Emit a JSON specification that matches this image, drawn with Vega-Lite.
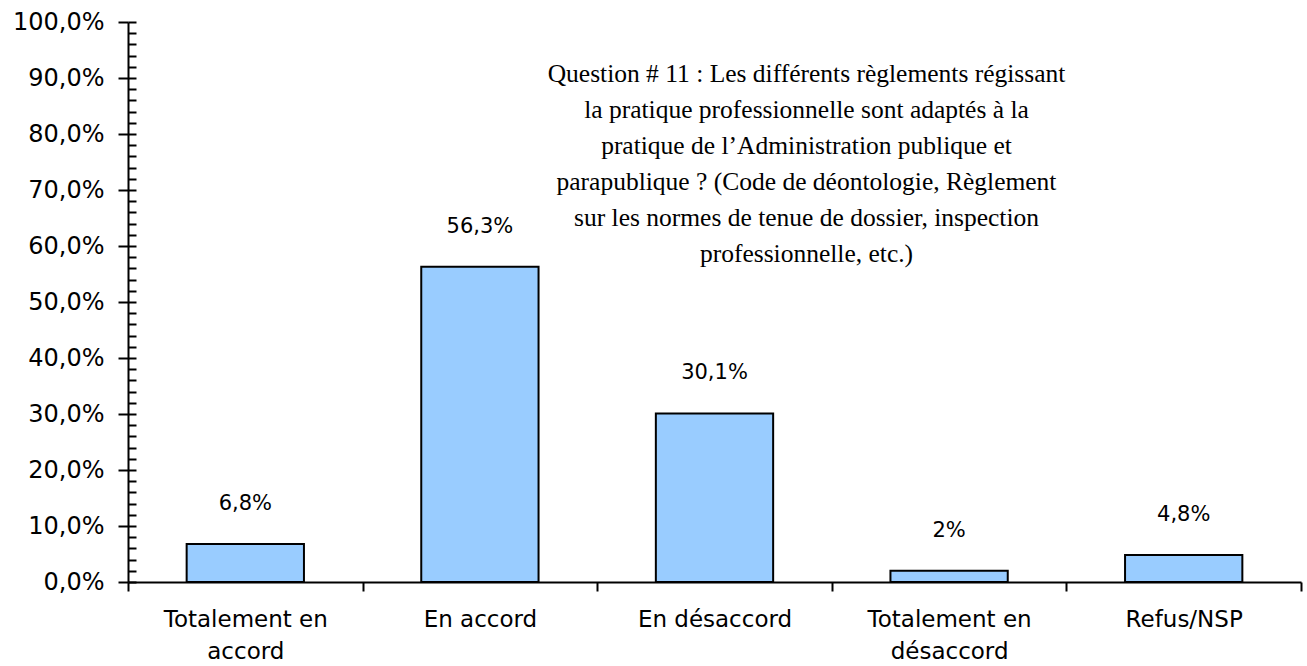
{
  "$schema": "https://vega.github.io/schema/vega-lite/v6.json",
  "width": 1173,
  "height": 560,
  "autosize": {"type": "none"},
  "padding": {"left": 128, "top": 22, "right": 6, "bottom": 84},
  "background": "white",
  "config": {
    "locale": {"number": {"decimal": ",", "thousands": " ", "grouping": [3], "currency": ["", " €"]}},
    "view": {"stroke": null},
    "axis": {"grid": false, "domainColor": "black", "tickColor": "black", "labelColor": "black", "domainWidth": 2, "tickWidth": 2}
  },
  "data": {
    "values": [
      {"categorie": "Totalement en accord", "valeur": 0.068, "etiquette": "6,8%"},
      {"categorie": "En accord", "valeur": 0.563, "etiquette": "56,3%"},
      {"categorie": "En désaccord", "valeur": 0.301, "etiquette": "30,1%"},
      {"categorie": "Totalement en désaccord", "valeur": 0.02, "etiquette": "2%"},
      {"categorie": "Refus/NSP", "valeur": 0.048, "etiquette": "4,8%"}
    ]
  },
  "resolve": {"axis": {"y": "independent"}},
  "layer": [
    {
      "mark": {"type": "bar", "fill": "#99CCFF", "stroke": "black", "strokeWidth": 2, "width": {"band": 0.5}},
      "encoding": {
        "x": {
          "field": "categorie", "type": "nominal", "sort": null,
          "scale": {"paddingInner": 0, "paddingOuter": 0},
          "axis": {
            "title": null, "labelAngle": 0, "tickSize": 9, "tickBand": "extent",
            "labelFont": "DejaVu Sans", "labelFontSize": 23, "labelPadding": 17,
            "labelLineHeight": 32, "labelBaseline": "top",
            "labelExpr": "!isString(datum.value) ? '' : (indexof(datum.value, 'Totalement en ') == 0 ? ['Totalement en', substring(datum.value, 14)] : datum.value)"
          }
        },
        "y": {
          "field": "valeur", "type": "quantitative",
          "scale": {"domain": [0, 1], "nice": false, "zero": true},
          "axis": {
            "orient": "left", "title": null, "format": ".1%",
            "values": [0, 0.1, 0.2, 0.3, 0.4, 0.5, 0.6, 0.7, 0.8, 0.9, 1.0],
            "tickSize": 10, "labelPadding": 14, "labelOverlap": false,
            "labelFont": "DejaVu Sans", "labelFontSize": 24
          }
        }
      }
    },
    {
      "mark": {"type": "text", "font": "DejaVu Sans", "fontSize": 21, "color": "black", "baseline": "middle", "dy": -40},
      "encoding": {
        "x": {"field": "categorie", "type": "nominal", "sort": null},
        "y": {
          "field": "valeur", "type": "quantitative",
          "axis": {
            "orient": "left", "title": null, "labels": false, "domain": false,
            "tickSize": -8,
            "values": [0, 0.02, 0.04, 0.06, 0.08, 0.1, 0.12, 0.14, 0.16, 0.18, 0.2, 0.22, 0.24, 0.26, 0.28, 0.3, 0.32, 0.34, 0.36, 0.38, 0.4, 0.42, 0.44, 0.46, 0.48, 0.5, 0.52, 0.54, 0.56, 0.58, 0.6, 0.62, 0.64, 0.66, 0.68, 0.7, 0.72, 0.74, 0.76, 0.78, 0.8, 0.82, 0.84, 0.86, 0.88, 0.9, 0.92, 0.94, 0.96, 0.98, 1.0]
          }
        },
        "text": {"field": "etiquette"}
      }
    },
    {
      "data": {"values": [{"categorie": "En désaccord", "titre": "Question # 11 : Les différents règlements régissant\nla pratique professionnelle sont adaptés à la\npratique de l’Administration publique et\nparapublique ? (Code de déontologie, Règlement\nsur les normes de tenue de dossier, inspection\nprofessionnelle, etc.)"}]},
      "mark": {"type": "text", "font": "Liberation Serif", "fontSize": 25.5, "color": "black", "align": "center", "baseline": "alphabetic", "lineHeight": 36, "lineBreak": "\n", "dx": 92},
      "encoding": {
        "x": {"field": "categorie", "type": "nominal", "sort": null},
        "y": {"datum": 0.8929, "type": "quantitative", "axis": null},
        "text": {"field": "titre"}
      }
    }
  ]
}
